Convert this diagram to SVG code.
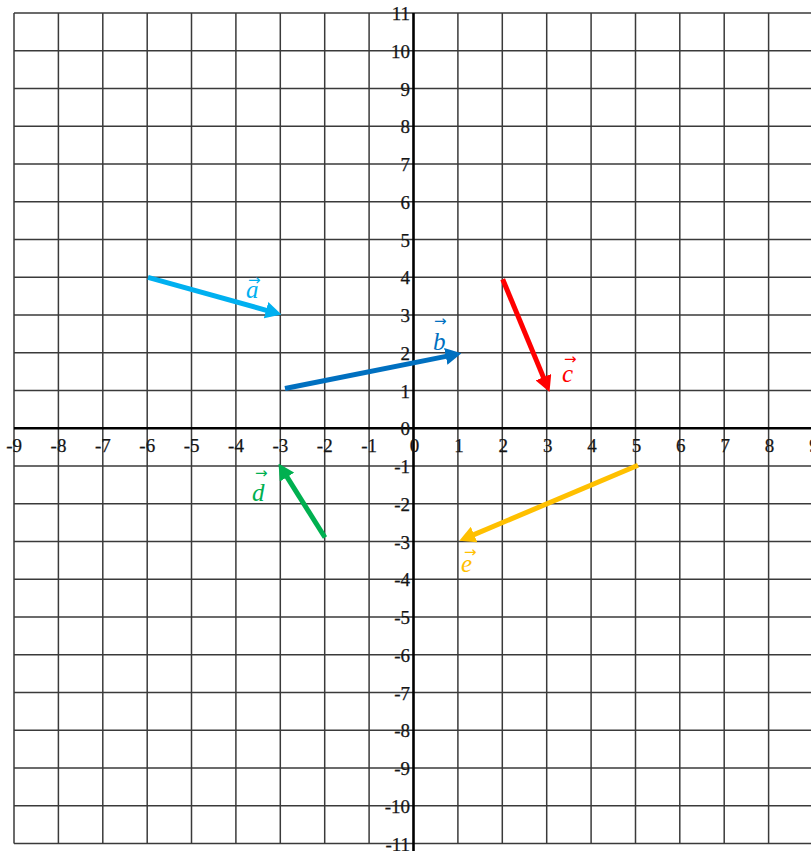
<svg xmlns="http://www.w3.org/2000/svg" width="811" height="851" viewBox="0 0 811 851">
<style>
.grid line{stroke:#3a3a3a;stroke-width:1.5}
.axis{stroke:#000;stroke-width:2.6}
.tick{font-family:"Liberation Serif","Times New Roman",serif;font-size:19px;fill:#151515;stroke:#151515;stroke-width:0.25}
.tx-neg{text-anchor:end}
.tx-pos{text-anchor:middle}
.ty{text-anchor:end}
.vec{stroke-width:5;fill:none;stroke-linecap:butt}
.vlab{font-family:"Liberation Serif","DejaVu Serif",serif;font-style:italic;font-size:25px}
.varr{font-family:"DejaVu Sans",sans-serif;font-size:15px}
</style>
<defs>
<marker id="mA" viewBox="0 0 16 17" refX="4" refY="8.5" markerWidth="3.2" markerHeight="3.4" orient="auto" markerUnits="strokeWidth"><path d="M0,0 L16,8.5 L0,17 z" fill="#00B0F0"/></marker>
<marker id="mB" viewBox="0 0 16 17" refX="4" refY="8.5" markerWidth="3.2" markerHeight="3.4" orient="auto" markerUnits="strokeWidth"><path d="M0,0 L16,8.5 L0,17 z" fill="#0070C0"/></marker>
<marker id="mC" viewBox="0 0 16 17" refX="4" refY="8.5" markerWidth="3.2" markerHeight="3.4" orient="auto" markerUnits="strokeWidth"><path d="M0,0 L16,8.5 L0,17 z" fill="#FF0000"/></marker>
<marker id="mD" viewBox="0 0 16 17" refX="4" refY="8.5" markerWidth="3.2" markerHeight="3.4" orient="auto" markerUnits="strokeWidth"><path d="M0,0 L16,8.5 L0,17 z" fill="#00B050"/></marker>
<marker id="mE" viewBox="0 0 16 17" refX="4" refY="8.5" markerWidth="3.2" markerHeight="3.4" orient="auto" markerUnits="strokeWidth"><path d="M0,0 L16,8.5 L0,17 z" fill="#FFC000"/></marker>
</defs>
<rect width="811" height="851" fill="#fff"/>
<g id="grid" class="grid">
<line x1="14" y1="13" x2="14" y2="843.5"/>
<line x1="58.4" y1="13" x2="58.4" y2="843.5"/>
<line x1="102.8" y1="13" x2="102.8" y2="843.5"/>
<line x1="147.2" y1="13" x2="147.2" y2="843.5"/>
<line x1="191.5" y1="13" x2="191.5" y2="843.5"/>
<line x1="235.9" y1="13" x2="235.9" y2="843.5"/>
<line x1="280.3" y1="13" x2="280.3" y2="843.5"/>
<line x1="324.7" y1="13" x2="324.7" y2="843.5"/>
<line x1="369.1" y1="13" x2="369.1" y2="843.5"/>
<line x1="457.9" y1="13" x2="457.9" y2="843.5"/>
<line x1="502.3" y1="13" x2="502.3" y2="843.5"/>
<line x1="546.7" y1="13" x2="546.7" y2="843.5"/>
<line x1="591.1" y1="13" x2="591.1" y2="843.5"/>
<line x1="635.5" y1="13" x2="635.5" y2="843.5"/>
<line x1="679.8" y1="13" x2="679.8" y2="843.5"/>
<line x1="724.2" y1="13" x2="724.2" y2="843.5"/>
<line x1="768.6" y1="13" x2="768.6" y2="843.5"/>
<line x1="14" y1="13" x2="811" y2="13"/>
<line x1="14" y1="50.8" x2="811" y2="50.8"/>
<line x1="14" y1="88.55" x2="811" y2="88.55"/>
<line x1="14" y1="126.3" x2="811" y2="126.3"/>
<line x1="14" y1="164.05" x2="811" y2="164.05"/>
<line x1="14" y1="201.8" x2="811" y2="201.8"/>
<line x1="14" y1="239.55" x2="811" y2="239.55"/>
<line x1="14" y1="277.3" x2="811" y2="277.3"/>
<line x1="14" y1="315.05" x2="811" y2="315.05"/>
<line x1="14" y1="352.8" x2="811" y2="352.8"/>
<line x1="14" y1="390.55" x2="811" y2="390.55"/>
<line x1="14" y1="466.05" x2="811" y2="466.05"/>
<line x1="14" y1="503.8" x2="811" y2="503.8"/>
<line x1="14" y1="541.55" x2="811" y2="541.55"/>
<line x1="14" y1="579.3" x2="811" y2="579.3"/>
<line x1="14" y1="617.05" x2="811" y2="617.05"/>
<line x1="14" y1="654.8" x2="811" y2="654.8"/>
<line x1="14" y1="692.55" x2="811" y2="692.55"/>
<line x1="14" y1="730.3" x2="811" y2="730.3"/>
<line x1="14" y1="768.05" x2="811" y2="768.05"/>
<line x1="14" y1="805.8" x2="811" y2="805.8"/>
<line x1="14" y1="843.55" x2="811" y2="843.55"/>
</g>
<g id="axes">
<line class="axis" x1="14" y1="428.3" x2="811" y2="428.3"/>
<line class="axis" x1="413.5" y1="13" x2="413.5" y2="851"/>
</g>
<g id="x-labels" class="tick">
<text class="tx-neg" x="22" y="452">-9</text>
<text class="tx-neg" x="66.4" y="452">-8</text>
<text class="tx-neg" x="110.8" y="452">-7</text>
<text class="tx-neg" x="155.2" y="452">-6</text>
<text class="tx-neg" x="199.5" y="452">-5</text>
<text class="tx-neg" x="243.9" y="452">-4</text>
<text class="tx-neg" x="288.3" y="452">-3</text>
<text class="tx-neg" x="332.7" y="452">-2</text>
<text class="tx-neg" x="377.1" y="452">-1</text>
<text class="tx-pos" x="414.5" y="452">0</text>
<text class="tx-pos" x="458.9" y="452">1</text>
<text class="tx-pos" x="503.3" y="452">2</text>
<text class="tx-pos" x="547.7" y="452">3</text>
<text class="tx-pos" x="592.1" y="452">4</text>
<text class="tx-pos" x="636.5" y="452">5</text>
<text class="tx-pos" x="680.8" y="452">6</text>
<text class="tx-pos" x="725.2" y="452">7</text>
<text class="tx-pos" x="769.6" y="452">8</text>
<text class="tx-pos" x="814" y="452">9</text>
</g>
<g id="y-labels" class="tick">
<text class="ty" x="410" y="20">11</text>
<text class="ty" x="410" y="57.8">10</text>
<text class="ty" x="410" y="95.5">9</text>
<text class="ty" x="410" y="133.3">8</text>
<text class="ty" x="410" y="171">7</text>
<text class="ty" x="410" y="208.8">6</text>
<text class="ty" x="410" y="246.5">5</text>
<text class="ty" x="410" y="284.3">4</text>
<text class="ty" x="410" y="322">3</text>
<text class="ty" x="410" y="359.8">2</text>
<text class="ty" x="410" y="397.5">1</text>
<text class="ty" x="410" y="435.3">0</text>
<text class="ty" x="410" y="473">-1</text>
<text class="ty" x="410" y="510.8">-2</text>
<text class="ty" x="410" y="548.5">-3</text>
<text class="ty" x="410" y="586.3">-4</text>
<text class="ty" x="410" y="624">-5</text>
<text class="ty" x="410" y="661.8">-6</text>
<text class="ty" x="410" y="699.5">-7</text>
<text class="ty" x="410" y="737.3">-8</text>
<text class="ty" x="410" y="775">-9</text>
<text class="ty" x="410" y="812.8">-10</text>
<text class="ty" x="410" y="850.5">-11</text>
</g>
<g id="connectors">
<line id="vec-a" class="vec" stroke="#00B0F0" x1="148" y1="277.3" x2="269.9" y2="311.3" marker-end="url(#mA)"/>
<line id="vec-b" class="vec" stroke="#0070C0" x1="285" y1="388.5" x2="449.7" y2="355.65" marker-end="url(#mB)"/>
<line id="vec-c" class="vec" stroke="#FF0000" x1="502.7" y1="279.3" x2="544.9" y2="380.9" marker-end="url(#mC)"/>
<line id="vec-d" class="vec" stroke="#00B050" x1="325" y1="537.5" x2="284.9" y2="473.7" marker-end="url(#mD)"/>
<line id="vec-e" class="vec" stroke="#FFC000" x1="638" y1="465.3" x2="470.4" y2="536.1" marker-end="url(#mE)"/>
</g>
<g id="label-a" fill="#00B0F0"><text class="varr" x="248" y="285">→</text><text class="vlab" x="246" y="298">a</text></g>
<g id="label-b" fill="#0070C0"><text class="varr" x="434" y="326">→</text><text class="vlab" x="433" y="350">b</text></g>
<g id="label-c" fill="#FF0000"><text class="varr" x="564" y="363.5">→</text><text class="vlab" x="562" y="382">c</text></g>
<g id="label-d" fill="#00B050"><text class="varr" x="255" y="478">→</text><text class="vlab" x="252" y="501">d</text></g>
<g id="label-e" fill="#FFC000"><text class="varr" x="464" y="556.5">→</text><text class="vlab" x="461" y="572">e</text></g>
</svg>
